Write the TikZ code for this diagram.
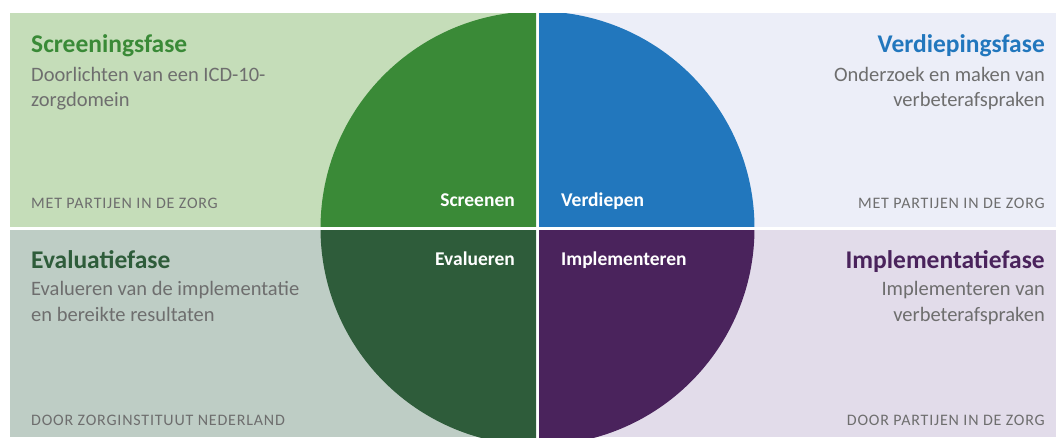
\documentclass[tikz,border=0pt]{standalone}
\usepackage{fontspec}
\setmainfont{Carlito}
\newfontfamily\capsfont[LetterSpace=5]{Carlito}
\usetikzlibrary{calc}

\definecolor{screengreen}{HTML}{3A8A37}
\definecolor{verdiepblue}{HTML}{2277BD}
\definecolor{evalgreen}{HTML}{2E5C3A}
\definecolor{implpurple}{HTML}{4A235C}
\definecolor{screenbg}{HTML}{C5DDB9}
\definecolor{verdiepbg}{HTML}{ECEEF8}
\definecolor{evalbg}{HTML}{BECDC5}
\definecolor{implbg}{HTML}{E2DCEA}
\definecolor{textgray}{HTML}{6E6E6E}

\tikzset{
  fasetitle/.style={font=\fontsize{25.5}{27}\selectfont\bfseries, inner sep=0pt},
  faseline/.style={font=\fontsize{20.5}{24}\selectfont, text=textgray, inner sep=0pt},
  fasefoot/.style={font=\capsfont\fontsize{16}{18}\selectfont, text=textgray, inner sep=0pt},
  stage/.style={font=\fontsize{19.5}{21}\selectfont\bfseries, text=white, inner sep=0pt}
}

\begin{document}
\begin{tikzpicture}[x=1pt,y=-1pt]
  \useasboundingbox (0,0) rectangle (1056,437);
  \def\R{217pt}
  \coordinate (O) at (537.5,228.3);

  % four panels
  \fill[screenbg]  (10,13)  rectangle (536,226.7);
  \fill[verdiepbg] (539,13) rectangle (1056,226.7);
  \fill[evalbg]    (10,230) rectangle (536,437);
  \fill[implbg]    (539,230) rectangle (1056,437);

  % quarters of the circle, cut by the panels
  \begin{scope}
    \clip (10,13) rectangle (536,226.7);
    \fill[screengreen] (O) circle (\R);
  \end{scope}
  \begin{scope}
    \clip (539,13) rectangle (1056,226.7);
    \fill[verdiepblue] (O) circle (\R);
  \end{scope}
  \begin{scope}
    \clip (10,230) rectangle (536,437);
    \fill[evalgreen] (O) circle (\R);
  \end{scope}
  \begin{scope}
    \clip (539,230) rectangle (1056,437);
    \fill[implpurple] (O) circle (\R);
  \end{scope}

  % labels inside the circle
  \node[stage, anchor=base east] (screenen) at (515,206) {Screenen};
  \node[stage, anchor=base west] (verdiepen) at (561,206) {Verdiepen};
  \node[stage, anchor=base east] (evalueren) at (515,265) {Evalueren};
  \node[stage, anchor=base west] (implementeren) at (561,265) {Implementeren};

  % top left
  \node[fasetitle, text=screengreen, anchor=base west] (screentitle) at (31,52.5) {Screeningsfase};
  \node[faseline, anchor=base west] (screenlineA) at (31,81) {Doorlichten van een ICD-10-};
  \node[faseline, anchor=base west] (screenlineB) at (31,106) {zorgdomein};
  \node[fasefoot, anchor=base west] (screenfoot) at (31,208.3) {MET PARTIJEN IN DE ZORG};

  % top right
  \node[fasetitle, text=verdiepblue, anchor=base east] (verdieptitle) at (1045,52.5) {Verdiepingsfase};
  \node[faseline, anchor=base east] (verdieplineA) at (1045,81) {Onderzoek en maken van};
  \node[faseline, anchor=base east] (verdieplineB) at (1045,106) {verbeterafspraken};
  \node[fasefoot, anchor=base east] (verdiepfoot) at (1045,208.3) {MET PARTIJEN IN DE ZORG};

  % bottom left
  \node[fasetitle, text=evalgreen, anchor=base west] (evaltitle) at (31,268.5) {Evaluatiefase};
  \node[faseline, anchor=base west] (evallineA) at (31,295.5) {Evalueren van de implementatie};
  \node[faseline, anchor=base west] (evallineB) at (31,321) {en bereikte resultaten};
  \node[fasefoot, anchor=base west] (evalfoot) at (31,425) {DOOR ZORGINSTITUUT NEDERLAND};

  % bottom right
  \node[fasetitle, text=implpurple, anchor=base east] (impltitle) at (1045,268.5) {Implementatiefase};
  \node[faseline, anchor=base east] (impllineA) at (1045,295.5) {Implementeren van};
  \node[faseline, anchor=base east] (impllineB) at (1045,321) {verbeterafspraken};
  \node[fasefoot, anchor=base east] (implfoot) at (1045,425) {DOOR PARTIJEN IN DE ZORG};
\end{tikzpicture}
\end{document}
